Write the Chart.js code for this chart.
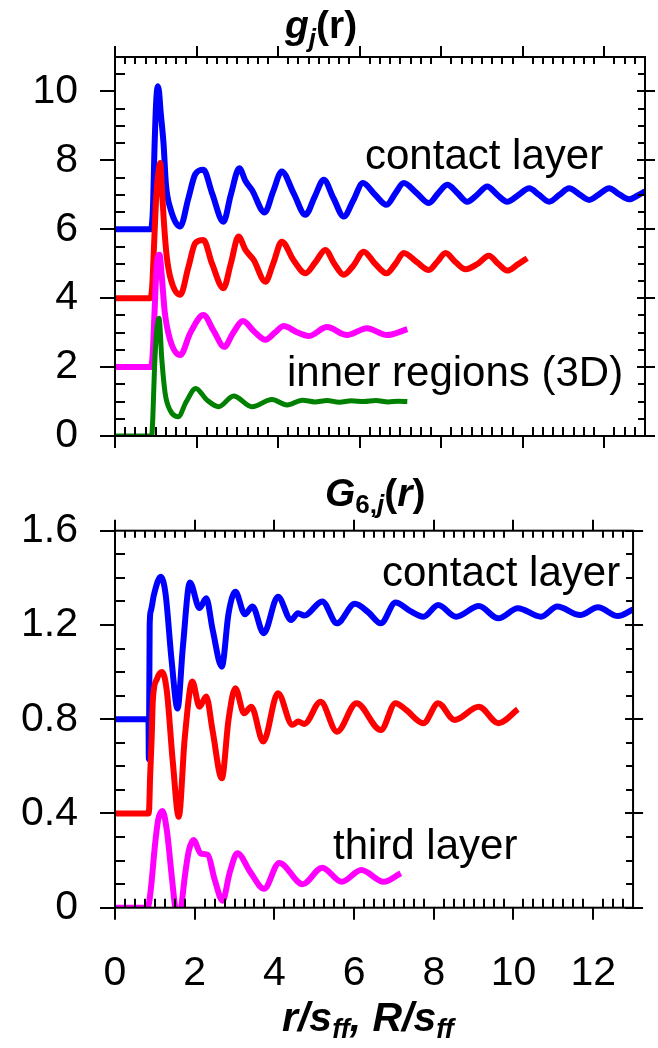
<!DOCTYPE html>
<html>
<head>
<meta charset="utf-8">
<script src="https://cdn.jsdelivr.net/npm/chart.js@4/dist/chart.umd.min.js"></script>
<style>
  html, body { margin:0; padding:0; background:#fff; }
  body { width:658px; height:1048px; position:relative; overflow:hidden; font-family:"Liberation Sans", Arial, sans-serif; color:#000; }
  canvas { position:absolute; left:0; }
  #c1 { top:0; }
  #c2 { top:450px; }
  .txt { position:absolute; white-space:nowrap; line-height:1; }
  .sub { position:relative; }
</style>
</head>
<body>
<canvas id="c1" width="658" height="450"></canvas>
<canvas id="c2" width="658" height="598"></canvas>

<div class="txt" style="left:285px; top:5px; font-size:39px; font-weight:bold;"><i>g</i><span class="sub" style="font-size:26px; top:9px;"><i>j</i></span>(r)</div>
<div class="txt" style="left:365px; top:134px; font-size:42px;">contact layer</div>
<div class="txt" style="left:287px; top:351px; font-size:42px;">inner regions (3D)</div>

<div class="txt" style="left:325px; top:473px; font-size:39px; font-weight:bold;"><i>G</i><span class="sub" style="font-size:26px; top:7px;">6,<i>j</i></span>(<i>r</i>)</div>
<div class="txt" style="left:382px; top:551px; font-size:42px;">contact layer</div>
<div class="txt" style="left:333px; top:824px; font-size:42px;">third layer</div>

<div class="txt" style="left:282px; top:997px; font-size:41px; font-weight:bold; font-style:italic;">r/s<span class="sub" style="font-size:27px; top:7px;">ff</span>, R/s<span class="sub" style="font-size:27px; top:7px;">ff</span></div>

<script>
// ---------- data: top panel g_j(r) ----------
const gContactX = [0,0.88,0.93,0.97,1.01,1.05,1.08,1.12,1.19,1.25,1.36,1.60,1.80,1.97,2.17,2.38,2.66,2.84,3.05,3.20,3.36,3.67,3.88,4.09,4.38,4.67,4.90,5.12,5.36,5.61,5.85,6.08,6.38,6.66,6.88,7.08,7.40,7.70,7.93,8.15,8.40,8.64,8.88,9.13,9.38,9.62,9.90,10.16,10.40,10.65,10.90,11.14,11.38,11.63,11.88,12.12,12.36,12.61,12.82,13.0];
const gContactY = [6.0,6.0,6.6,8.4,9.7,10.15,10.0,9.4,8.5,7.3,6.6,6.08,6.9,7.6,7.73,7.05,6.22,7.0,7.77,7.4,7.14,6.49,7.1,7.68,7.05,6.42,6.95,7.44,6.9,6.37,6.85,7.34,7.0,6.71,7.05,7.34,7.05,6.76,7.05,7.29,7.05,6.80,7.0,7.24,7.0,6.80,7.0,7.19,7.0,6.80,7.0,7.19,7.02,6.85,7.02,7.19,7.02,6.87,6.98,7.10];

const gSecondX = [0,0.86,0.91,0.96,1.01,1.06,1.11,1.15,1.20,1.27,1.38,1.60,1.80,1.97,2.17,2.38,2.66,2.84,3.03,3.20,3.40,3.69,3.88,4.09,4.38,4.67,4.92,5.16,5.38,5.61,5.85,6.10,6.38,6.66,6.88,7.08,7.40,7.70,7.90,8.11,8.35,8.60,8.90,9.17,9.40,9.62,9.88,10.11];
const gSecondY = [4.0,4.0,4.3,5.6,6.9,7.6,7.92,7.2,6.2,5.2,4.5,4.10,4.9,5.6,5.69,5.0,4.29,5.0,5.79,5.4,5.11,4.48,5.0,5.64,5.1,4.72,5.05,5.40,5.0,4.68,4.95,5.35,5.0,4.72,5.0,5.31,5.05,4.82,5.05,5.31,5.05,4.84,5.0,5.23,5.0,4.80,4.98,5.16];

const gThirdX = [0,0.86,0.92,0.97,1.02,1.09,1.15,1.22,1.35,1.60,1.85,2.17,2.42,2.68,2.90,3.14,3.40,3.69,3.92,4.14,4.45,4.75,5.20,5.69,6.18,6.67,7.17];
const gThirdY = [2.0,2.0,2.3,3.6,4.9,5.26,4.6,3.6,2.8,2.35,3.0,3.51,3.05,2.59,3.0,3.34,3.05,2.79,3.0,3.19,3.02,2.90,3.16,2.93,3.13,2.93,3.10];

const gInnerX = [0,0.90,0.93,0.97,1.02,1.08,1.15,1.23,1.35,1.55,1.75,1.98,2.25,2.54,2.91,3.36,3.85,4.22,4.6,4.9,5.2,5.5,5.8,6.1,6.4,6.7,6.95,7.17];
const gInnerY = [0,0,0.6,2.0,3.0,3.42,2.2,1.24,0.75,0.56,1.0,1.38,1.05,0.85,1.16,0.85,1.06,0.90,1.04,0.99,1.03,0.98,1.02,1.00,1.03,0.99,1.01,1.00];

// ---------- data: bottom panel G6,j(r) ----------
const G6ContactX = [0,0.84,0.85,0.87,0.90,0.98,1.15,1.27,1.42,1.57,1.70,1.88,2.12,2.29,2.45,2.68,2.85,3.02,3.26,3.45,3.73,4.09,4.42,4.59,4.75,5.20,5.57,6.02,6.35,6.67,7.04,7.40,7.74,8.11,8.56,9.13,9.62,10.11,10.69,11.10,11.67,12.12,12.62,13.0];
const G6ContactY = [0.8,0.8,0.63,1.20,1.26,1.33,1.405,1.33,1.05,0.845,1.10,1.38,1.272,1.313,1.18,1.023,1.25,1.341,1.245,1.278,1.165,1.32,1.221,1.25,1.24,1.30,1.207,1.29,1.255,1.207,1.295,1.26,1.235,1.285,1.235,1.28,1.228,1.271,1.235,1.278,1.242,1.275,1.238,1.266];

const G6SecondX = [0,0.84,0.86,0.88,0.92,0.95,1.05,1.18,1.30,1.45,1.60,1.75,1.94,2.12,2.29,2.45,2.68,2.85,3.02,3.24,3.42,3.72,4.09,4.45,4.60,4.75,5.16,5.57,6.06,6.67,7.04,7.30,7.74,8.11,8.52,9.13,9.62,10.11];
const G6SecondY = [0.4,0.4,0.43,0.55,0.72,0.88,0.97,1.0,0.92,0.62,0.386,0.72,0.96,0.853,0.896,0.75,0.549,0.80,0.931,0.825,0.853,0.705,0.91,0.776,0.79,0.78,0.874,0.747,0.868,0.754,0.868,0.84,0.783,0.868,0.797,0.853,0.783,0.842];

const G6ThirdX = [0,0.82,0.90,1.00,1.08,1.19,1.30,1.42,1.51,1.58,1.66,1.75,1.85,1.97,2.15,2.33,2.50,2.70,2.88,3.07,3.40,3.74,4.12,4.71,5.20,5.69,6.18,6.74,7.17];
const G6ThirdY = [0,0,0.08,0.26,0.37,0.41,0.33,0.14,0.0,-0.06,0.0,0.13,0.24,0.287,0.23,0.224,0.12,0.03,0.15,0.231,0.15,0.08,0.19,0.10,0.17,0.11,0.16,0.11,0.146];

// ---------- tick labels ----------
const xTickLabels = ['0','2','4','6','8','10','12'];
const gTickLabels = ['0','2','4','6','8','10'];
const G6TickLabels = ['0','0.4','0.8','1.2','1.6'];

// ---------- helpers ----------
const FONT = '"Liberation Sans", Arial, sans-serif';
function pts(xs, ys) { return xs.map((x, i) => ({ x: x, y: ys[i] })); }
function ds(xs, ys, color, w) {
  return { data: pts(xs, ys), borderColor: color, backgroundColor: color, borderWidth: w || 6,
           pointRadius: 0, fill: false, cubicInterpolationMode: 'monotone', borderJoinStyle: 'round', borderCapStyle: 'butt' };
}

function framePlugin(c) {
  return {
    id: 'frame',
    afterDatasetsDraw(chart) {
      const ctx = chart.ctx, a = chart.chartArea, xs = chart.scales.x, ys = chart.scales.y;
      ctx.save();
      ctx.strokeStyle = '#000';
      ctx.lineWidth = 2;
      ctx.lineCap = 'butt';
      ctx.strokeRect(a.left, a.top, a.right - a.left, a.bottom - a.top);
      ctx.beginPath();
      const L = (x1, y1, x2, y2) => { ctx.moveTo(x1, y1); ctx.lineTo(x2, y2); };
      const isMajor = (v, m) => Math.abs(v / m - Math.round(v / m)) < 1e-6;
      const nx = Math.round((c.xMax - c.xMin) / c.xMinor);
      for (let i = 0; i <= nx; i++) {
        const v = c.xMin + i * c.xMinor;
        const p = Math.round(xs.getPixelForValue(v));
        if (isMajor(v, c.xMajor)) {
          L(p, a.bottom, p, a.bottom + 12);
          L(p, a.top, p, a.top - 11);
        } else if (p > a.left + 1 && p < a.right - 1) {
          L(p, a.bottom, p, a.bottom - 9);
          L(p, a.top, p, a.top + 7);
        }
      }
      const ny = Math.round((c.yMax - c.yMin) / c.yMinor);
      for (let i = 0; i <= ny; i++) {
        const v = c.yMin + i * c.yMinor;
        const p = Math.round(ys.getPixelForValue(v));
        if (isMajor(v, c.yMajor)) {
          L(a.left, p, a.left - 15, p);
          L(a.right - 8, p, a.right + 10, p);
        } else if (p < a.bottom - 1 && p > a.top + 1) {
          L(a.left, p, a.left + 10, p);
          L(a.right, p, a.right - 7, p);
        }
      }
      ctx.stroke();
      ctx.restore();
    }
  };
}

Chart.defaults.font.family = FONT;
Chart.defaults.color = '#000';

function fitY(s) { s.width = 115; s.paddingTop = 0; s.paddingBottom = 0; }

// ---------- top chart ----------
new Chart(document.getElementById('c1'), {
  type: 'line',
  data: { datasets: [
    ds(gInnerX, gInnerY, '#008000', 5),
    ds(gThirdX, gThirdY, '#ff00ff'),
    ds(gSecondX, gSecondY, '#ff0000'),
    ds(gContactX, gContactY, '#0000ff')
  ] },
  options: {
    responsive: false, animation: false, devicePixelRatio: 1,
    layout: { padding: { top: 57, right: 13, bottom: 14, left: 0 } },
    plugins: { legend: { display: false }, tooltip: { enabled: false }, title: { display: false } },
    scales: {
      x: { type: 'linear', min: 0, max: 13, display: false,
           ticks: { display: false, stepSize: 2, includeBounds: false },
           grid: { display: false, drawTicks: false }, border: { display: false } },
      y: { type: 'linear', min: 0, max: 11,
           ticks: { stepSize: 2, includeBounds: false, padding: 37, color: '#000',
                    font: { size: 41, family: FONT },
                    callback: (v) => gTickLabels[Math.round(v / 2)] },
           grid: { display: false, drawTicks: false }, border: { display: false },
           afterFit: fitY }
    }
  },
  plugins: [framePlugin({ xMin: 0, xMax: 13, xMajor: 2, xMinor: 0.25, yMin: 0, yMax: 11, yMajor: 2, yMinor: 0.5 })]
});

// ---------- bottom chart ----------
new Chart(document.getElementById('c2'), {
  type: 'line',
  data: { datasets: [
    ds(G6ThirdX, G6ThirdY, '#ff00ff'),
    ds(G6SecondX, G6SecondY, '#ff0000'),
    ds(G6ContactX, G6ContactY, '#0000ff')
  ] },
  options: {
    responsive: false, animation: false, devicePixelRatio: 1,
    layout: { padding: { top: 80.7, right: 13, bottom: 0, left: 0 } },
    plugins: { legend: { display: false }, tooltip: { enabled: false }, title: { display: false } },
    scales: {
      x: { type: 'linear', min: 0, max: 13,
           ticks: { stepSize: 2, includeBounds: false, padding: 41, color: '#000', maxRotation: 0,
                    font: { size: 41, family: FONT },
                    callback: (v) => xTickLabels[Math.round(v / 2)] },
           grid: { display: false, drawTicks: false }, border: { display: false },
           afterFit: s => { s.height = 140.3; } },
      y: { type: 'linear', min: 0, max: 1.6,
           ticks: { stepSize: 0.4, includeBounds: false, padding: 37, color: '#000',
                    font: { size: 41, family: FONT },
                    callback: (v) => G6TickLabels[Math.round(v / 0.4)] },
           grid: { display: false, drawTicks: false }, border: { display: false },
           afterFit: fitY }
    }
  },
  plugins: [framePlugin({ xMin: 0, xMax: 13, xMajor: 2, xMinor: 0.25, yMin: 0, yMax: 1.6, yMajor: 0.4, yMinor: 0.1 })]
});
</script>
</body>
</html>
